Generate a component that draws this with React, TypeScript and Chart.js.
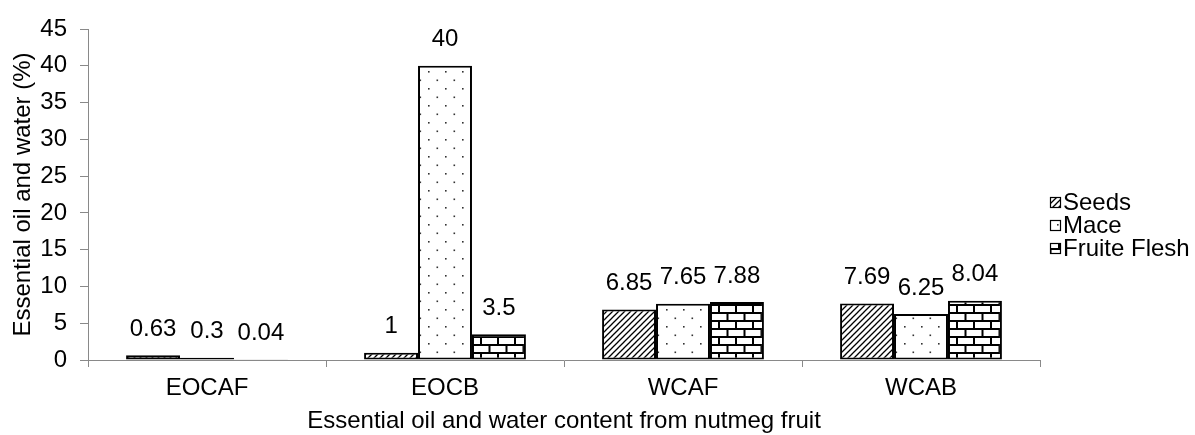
import React, { useEffect, useRef } from "react";
import { Chart, registerables } from "chart.js";

Chart.register(...registerables);

const categories = ["EOCAF", "EOCB", "WCAF", "WCAB"];
const seriesNames = ["Seeds", "Mace", "Fruite Flesh"];
const seedsValues = [0.63, 1, 6.85, 7.69];
const maceValues = [0.3, 40, 7.65, 6.25];
const fleshValues = [0.04, 3.5, 7.88, 8.04];
const yTickMax = 45;
const yTickStep = 5;
const xTitle = "Essential oil and water content from nutmeg fruit";
const yTitle = "Essential oil and water (%)";

const FONT = "'Liberation Sans', Arial, sans-serif";
const AXIS_GRAY = "#898989";

function makeHatch(): CanvasPattern | string {
  const c = document.createElement("canvas");
  c.width = 6;
  c.height = 6;
  const g = c.getContext("2d");
  if (!g) return "#fff";
  g.fillStyle = "#fff";
  g.fillRect(0, 0, 6, 6);
  g.strokeStyle = "#000";
  g.lineWidth = 1.3;
  g.beginPath();
  g.moveTo(-1, 7);
  g.lineTo(7, -1);
  g.moveTo(-4, 4);
  g.lineTo(4, -4);
  g.moveTo(2, 10);
  g.lineTo(10, 2);
  g.stroke();
  return g.createPattern(c, "repeat") || "#fff";
}

function makeDots(): CanvasPattern | string {
  const c = document.createElement("canvas");
  c.width = 17;
  c.height = 17;
  const g = c.getContext("2d");
  if (!g) return "#fff";
  g.fillStyle = "#fff";
  g.fillRect(0, 0, 17, 17);
  g.fillStyle = "#333";
  g.fillRect(3, 3, 1.6, 1.6);
  g.fillRect(11.5, 11.5, 1.6, 1.6);
  return g.createPattern(c, "repeat") || "#fff";
}

function makeBricks(): CanvasPattern | string {
  const c = document.createElement("canvas");
  c.width = 17;
  c.height = 16;
  const g = c.getContext("2d");
  if (!g) return "#fff";
  g.fillStyle = "#fff";
  g.fillRect(0, 0, 17, 16);
  g.fillStyle = "#000";
  g.fillRect(0, 0, 17, 2);
  g.fillRect(0, 8, 17, 2);
  g.fillRect(4, 0, 2, 8);
  g.fillRect(12.5, 8, 2, 8);
  return g.createPattern(c, "repeat") || "#fff";
}

export default function App() {
  const ref = useRef<HTMLCanvasElement | null>(null);

  useEffect(() => {
    const canvas = ref.current;
    if (!canvas) return;
    const fills = [makeHatch(), makeDots(), makeBricks()];
    const values = [seedsValues, maceValues, fleshValues];

    const dataLabels = {
      id: "dataLabels",
      afterDatasetsDraw(chart: any) {
        const ctx = chart.ctx;
        ctx.save();
        ctx.font = `24px ${FONT}`;
        ctx.fillStyle = "#000";
        ctx.textAlign = "center";
        ctx.textBaseline = "middle";
        chart.data.datasets.forEach((ds: any, di: number) => {
          const meta = chart.getDatasetMeta(di);
          meta.data.forEach((el: any, i: number) => {
            ctx.fillText(String(ds.data[i]), el.x, el.y - 26);
          });
        });
        ctx.restore();
      },
    };

    const customLegend = {
      id: "customLegend",
      afterDraw(chart: any) {
        const ctx = chart.ctx;
        ctx.save();
        ctx.font = `24px ${FONT}`;
        ctx.textBaseline = "middle";
        ctx.textAlign = "left";
        const x0 = 1050;
        const yStart = 203;
        const gap = 23;
        chart.data.datasets.forEach((ds: any, i: number) => {
          const cy = yStart + i * gap;
          ctx.fillStyle = ds.backgroundColor;
          ctx.fillRect(x0, cy - 6, 11, 11);
          ctx.strokeStyle = "#000";
          ctx.lineWidth = 1.2;
          ctx.strokeRect(x0 + 0.5, cy - 5.5, 10, 10);
          ctx.fillStyle = "#000";
          ctx.fillText(ds.label, x0 + 13, cy);
        });
        ctx.restore();
      },
    };

    const chart = new Chart(canvas, {
      type: "bar",
      data: {
        labels: categories,
        datasets: seriesNames.map((name, i) => ({
          label: name,
          data: values[i],
          backgroundColor: fills[i] as any,
          borderColor: "#000",
          borderWidth: 2,
          borderSkipped: false,
          categoryPercentage: 0.68,
          barPercentage: 1,
        })),
      },
      options: {
        animation: false,
        responsive: false,
        maintainAspectRatio: false,
        layout: { padding: { top: 29, right: 155, left: 0, bottom: 0 } },
        plugins: {
          legend: { display: false },
          tooltip: { enabled: false },
        },
        scales: {
          x: {
            afterFit(scale: any) {
              scale.height = 75;
            },
            grid: {
              offset: true,
              drawOnChartArea: false,
              drawTicks: true,
              tickLength: 7,
              color: AXIS_GRAY,
            },
            border: { display: true, color: AXIS_GRAY, width: 1 },
            ticks: {
              color: "#000",
              font: { family: FONT, size: 24 },
              padding: 7,
              maxRotation: 0,
            },
            title: {
              display: true,
              text: xTitle,
              color: "#000",
              font: { family: FONT, size: 24, lineHeight: 1.1 },
              padding: { top: 0, bottom: 0 },
            },
          },
          y: {
            min: 0,
            max: yTickMax,
            afterFit(scale: any) {
              scale.width = 88;
            },
            ticks: {
              stepSize: yTickStep,
              color: "#000",
              font: { family: FONT, size: 24 },
              padding: 13,
            },
            grid: {
              drawOnChartArea: false,
              drawTicks: true,
              tickLength: 8,
              color: AXIS_GRAY,
            },
            border: { display: true, color: AXIS_GRAY, width: 1 },
            title: {
              display: true,
              text: yTitle,
              color: "#000",
              font: { family: FONT, size: 24, lineHeight: 1.2 },
              padding: { top: 9, bottom: 0 },
            },
          },
        },
      },
      plugins: [dataLabels, customLegend],
    });

    return () => {
      chart.destroy();
    };
  }, []);

  return (
    <div style={{ position: "absolute", left: 0, top: 0, width: 1195, height: 435, background: "#fff" }}>
      <canvas ref={ref} width={1195} height={435} style={{ width: 1195, height: 435, display: "block" }} />
    </div>
  );
}
